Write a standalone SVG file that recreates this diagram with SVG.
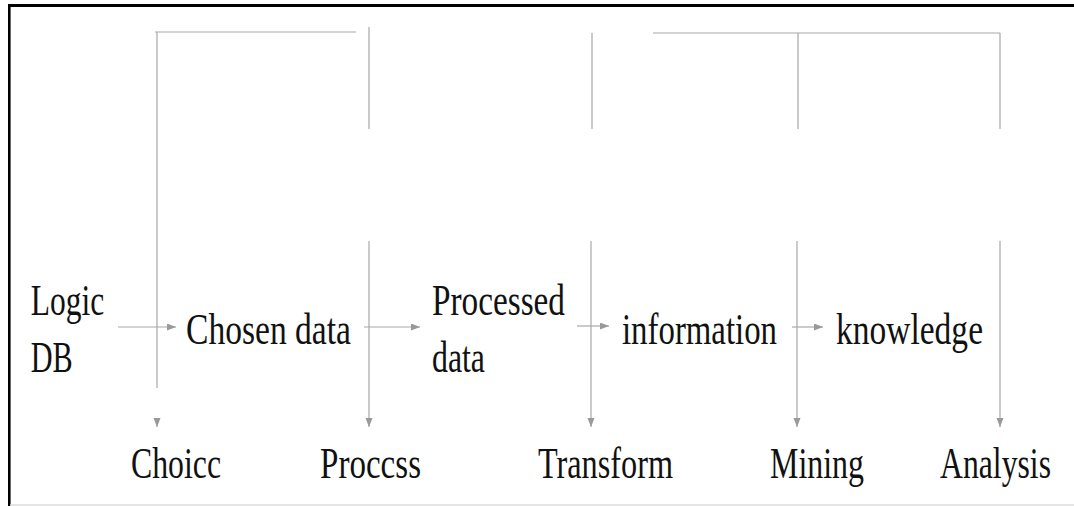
<svg xmlns="http://www.w3.org/2000/svg" width="1074" height="506" viewBox="0 0 1074 506">
<style>
.lbl{font-family:"Liberation Serif","Times New Roman",serif;font-size:45px;fill:#111;}
.ln{fill:none;stroke:#a8a8a8;stroke-width:1.2;}
.arr{marker-end:url(#ah);}
</style>
<defs>
<marker id="ah" markerUnits="userSpaceOnUse" markerWidth="10" markerHeight="8" refX="9" refY="3.5" orient="auto">
<path d="M0,0 L9,3.5 L0,7 z" fill="#999"/>
</marker>
</defs>
<rect x="0" y="0" width="1074" height="506" fill="#fff"/>
<g id="frame">
<line x1="8" y1="5.5" x2="1074" y2="5.5" stroke="#000" stroke-width="3"/>
<line x1="9.3" y1="4" x2="9.3" y2="506" stroke="#000" stroke-width="2.6"/>
<line x1="10" y1="505" x2="1074" y2="505" stroke="#ddd" stroke-width="1.5"/>
</g>
<g id="connectors">
<path class="ln" d="M155,32 H356"/>
<path class="ln arr" d="M157,32 V388 M157,418 V427"/>
<path class="ln arr" d="M369,27 V129 M369,241 V427"/>
<path class="ln arr" d="M592,33 V129 M591,241 V427"/>
<path class="ln" d="M653,33 H1000"/>
<path class="ln arr" d="M798,33 V129 M797,241 V427"/>
<path class="ln arr" d="M1000,33 V129 M1000,241 V427"/>
<path class="ln arr" d="M118,327 H176"/>
<path class="ln arr" d="M364,327 H420"/>
<path class="ln arr" d="M577,326 H609"/>
<path class="ln arr" d="M792,327 H823"/>
</g>
<g id="node-logicdb">
<text class="lbl" x="30.7" y="315" textLength="73.5" lengthAdjust="spacingAndGlyphs">Logic</text>
<text class="lbl" x="30.7" y="372" textLength="42" lengthAdjust="spacingAndGlyphs">DB</text>
</g>
<g id="node-chosen">
<text class="lbl" x="186" y="344" textLength="165" lengthAdjust="spacingAndGlyphs">Chosen data</text>
</g>
<g id="node-processed">
<text class="lbl" x="432" y="315" textLength="133" lengthAdjust="spacingAndGlyphs">Processed</text>
<text class="lbl" x="432" y="372" textLength="53" lengthAdjust="spacingAndGlyphs">data</text>
</g>
<g id="node-information">
<text class="lbl" x="622" y="344" textLength="155" lengthAdjust="spacingAndGlyphs">information</text>
</g>
<g id="node-knowledge">
<text class="lbl" x="836" y="344" textLength="147" lengthAdjust="spacingAndGlyphs">knowledge</text>
</g>
<g id="node-choice">
<text class="lbl" x="131" y="478" textLength="90" lengthAdjust="spacingAndGlyphs">Choicc</text>
</g>
<g id="node-process">
<text class="lbl" x="320" y="478" textLength="101" lengthAdjust="spacingAndGlyphs">Proccss</text>
</g>
<g id="node-transform">
<text class="lbl" x="538" y="478" textLength="135" lengthAdjust="spacingAndGlyphs">Transform</text>
</g>
<g id="node-mining">
<text class="lbl" x="770" y="478" textLength="94" lengthAdjust="spacingAndGlyphs">Mining</text>
</g>
<g id="node-analysis">
<text class="lbl" transform="translate(940,478) scale(0.705,1)" x="0" y="0">Analysis</text>
</g>
</svg>
